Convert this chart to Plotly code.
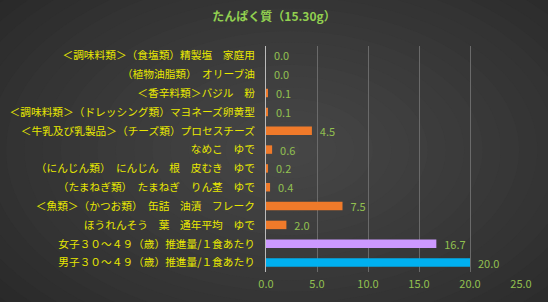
import plotly.graph_objects as go

categories = [
    "＜調味料類＞（食塩類）精製塩　家庭用",
    "（植物油脂類）　オリーブ油",
    "＜香辛料類＞バジル　粉",
    "＜調味料類＞（ドレッシング類）マヨネーズ卵黄型",
    "＜牛乳及び乳製品＞（チーズ類）プロセスチーズ",
    "なめこ　ゆで",
    "（にんじん類）　にんじん　根　皮むき　ゆで",
    "（たまねぎ類）　たまねぎ　りん茎　ゆで",
    "＜魚類＞（かつお類）　缶詰　油漬　フレーク",
    "ほうれんそう　葉　通年平均　ゆで",
    "女子３０～４９（歳）推進量/１食あたり",
    "男子３０～４９（歳）推進量/１食あたり",
]
values = [0.0, 0.0, 0.1, 0.1, 4.5, 0.6, 0.2, 0.4, 7.5, 2.0, 16.7, 20.0]
bar_colors = ["#F07A2A"] * 10 + ["#CC99FF", "#00B0F0"]
tick_vals = [0, 5, 10, 15, 20, 25]
tick_text = ["0.0", "5.0", "10.0", "15.0", "20.0", "25.0"]
title_text = "たんぱく質（15.30g）"

W, H = 548, 302
ml, mr, mt, mb = 266, 27, 46, 30
pw, ph = W - ml - mr, H - mt - mb

fig = go.Figure()
fig.add_trace(go.Bar(
    x=values, y=categories, orientation="h",
    marker=dict(color=bar_colors, line=dict(width=0)),
    texttemplate="  %{x:.1f}", textposition="outside",
    constraintext="none",
    textfont=dict(color="#92C050", size=11, family="Noto Sans CJK JP"),
    cliponaxis=False, width=0.45,
))

# radial background gradient approximated with concentric ellipses
def px2paper_x(px):
    return (px - ml) / pw

def py2paper_y(py):
    return 1 - (py - mt) / ph

shapes = []
n = 24
cx, cy = 290, 150
c_out = (0x24, 0x24, 0x24)
c_in = (0x47, 0x47, 0x47)
for i in range(n):
    t = i / (n - 1)
    rx = 420 * (1 - t) + 10
    ry = 260 * (1 - t) + 6
    col = tuple(int(c_out[k] + (c_in[k] - c_out[k]) * (t ** 0.8)) for k in range(3))
    shapes.append(dict(
        type="circle", xref="paper", yref="paper", layer="below",
        x0=px2paper_x(cx - rx), x1=px2paper_x(cx + rx),
        y0=py2paper_y(cy + ry), y1=py2paper_y(cy - ry),
        fillcolor="rgb(%d,%d,%d)" % col, line=dict(width=0),
    ))

fig.update_layout(
    width=W, height=H,
    margin=dict(l=ml, r=mr, t=mt, b=mb),
    paper_bgcolor="#242424", plot_bgcolor="rgba(0,0,0,0)",
    shapes=shapes,
    showlegend=False,
    bargap=0.55,
    title=dict(text="<b>" + title_text + "</b>", x=0.5, xanchor="center",
               y=1 - 17 / H, yanchor="middle",
               font=dict(color="#92D050", size=12, family="Noto Sans CJK JP")),
    font=dict(family="Noto Sans CJK JP"),
    xaxis=dict(range=[0, 25], tickvals=tick_vals, ticktext=tick_text,
               showgrid=True, gridcolor="#6a6a6a", gridwidth=1,
               zeroline=False, showline=False, ticks="", automargin=False,
               ticklabelstandoff=4,
               tickfont=dict(color="#92C050", size=11, family="Noto Sans CJK JP")),
    yaxis=dict(autorange="reversed", showgrid=False, ticks="",
               showline=True, linecolor="#BBBBBB", linewidth=1,
               ticklabelstandoff=8, automargin=False,
               tickfont=dict(color="#E8E800", size=10.7, family="Noto Sans CJK JP")),
)

fig.write_html("out.html")
